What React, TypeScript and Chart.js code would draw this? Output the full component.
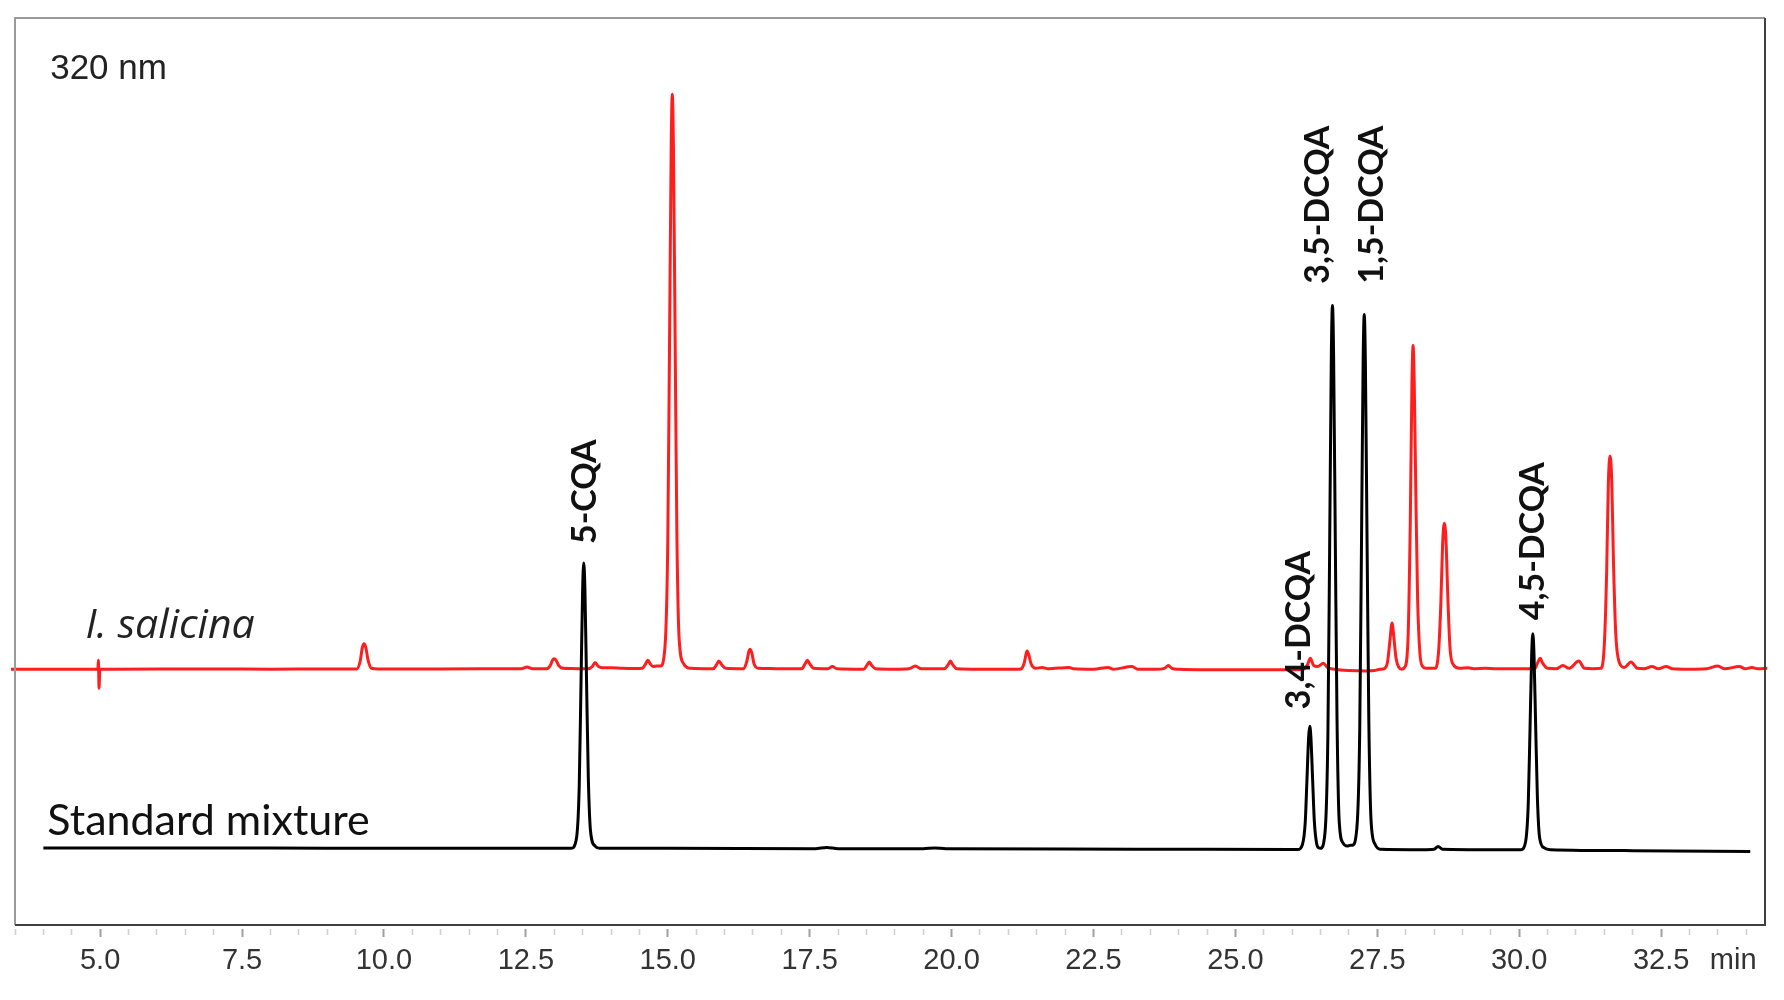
import React, { useEffect, useRef } from 'react';
import { Chart, registerables } from 'chart.js';

Chart.register(...registerables);

// Retention time (min) / detector signal (mAU, arbitrary) for the standard mixture
const STANDARD_TRACE: [number, number][] = [
  [4.0, 2], [6.0, 2], [8.0, 2], [10.0, 1.5], [12.0, 1.5], [13.3, 1.5],
  [13.39, 12], [13.44, 70], [13.47, 178], [13.5, 287], [13.52, 316], [13.54, 288],
  [13.57, 182], [13.6, 80], [13.64, 20], [13.72, 4], [13.8, 1.5],
  [15.0, 1.5], [17.6, 1.2], [17.8, 2.5], [18.0, 1.2], [19.5, 1], [19.7, 2], [19.9, 1],
  [22.0, 0.8], [24.0, 0.5], [26.0, 0.3], [26.1, 0.3],
  [26.18, 5.5], [26.23, 30], [26.26, 76], [26.29, 124], [26.31, 136], [26.33, 124],
  [26.36, 78], [26.39, 32], [26.43, 7], [26.47, 2],
  [26.5, 1.5], [26.58, 20], [26.63, 130], [26.66, 330], [26.69, 545], [26.71, 600],
  [26.73, 545], [26.76, 340], [26.79, 145], [26.83, 30], [26.9, 7], [26.97, 4], [27.03, 5],
  [27.06, 5], [27.14, 24], [27.19, 130], [27.22, 328], [27.25, 536], [27.27, 590],
  [27.29, 536], [27.32, 336], [27.35, 145], [27.39, 32], [27.46, 6], [27.55, 0.5],
  [28.3, 0], [28.5, 0.5], [28.57, 3.5], [28.65, 0.5], [29.5, 0], [30.03, 0],
  [30.11, 8], [30.16, 52], [30.19, 132], [30.22, 216], [30.24, 238], [30.26, 216],
  [30.29, 136], [30.32, 58], [30.36, 13], [30.44, 2], [30.55, 0],
  [32.0, -1], [34.07, -2],
];

// Retention time (min) / detector signal for the I. salicina extract
const SALICINA_TRACE: [number, number][] = [
  [3.43, 0], [4.96, 0], [4.97, 10], [4.98, -21], [4.995, 0], [5.2, 0],
  [7.0, 0.3], [8.0, 0], [9.0, 0.3], [9.52, 0.3],
  [9.58, 8.5], [9.62, 24], [9.65, 28], [9.68, 24], [9.72, 10], [9.78, 1], [9.9, 0.3],
  [11.0, 0.3], [12.3, 0.5], [12.42, 0.5], [12.52, 2.5], [12.62, 0.5],
  [12.87, 0.5], [12.93, 4], [12.97, 10], [13.0, 11.5], [13.03, 10], [13.08, 4], [13.15, 1],
  [13.3, 0.8], [13.6, 0.5], [13.67, 3], [13.72, 7.5], [13.77, 3.5], [13.85, 1.5],
  [14.0, 1.5], [14.2, 1], [14.45, 0.8], [14.55, 1], [14.61, 6], [14.65, 10], [14.69, 6],
  [14.74, 3], [14.8, 3.5], [14.87, 3.5],
  [14.95, 24], [15.0, 140], [15.03, 352], [15.06, 574], [15.08, 634], [15.1, 574],
  [15.13, 360], [15.16, 152], [15.2, 34], [15.28, 6], [15.4, 1], [15.75, 0.5],
  [15.8, 0.5], [15.86, 5], [15.9, 9], [15.95, 5], [16.02, 1],
  [16.33, 0.5], [16.39, 8], [16.43, 20], [16.45, 22], [16.48, 18], [16.52, 6], [16.6, 1],
  [16.8, 0.8], [17.0, 0.5], [17.3, 0.5],
  [17.36, 0.5], [17.42, 6], [17.46, 10], [17.5, 6], [17.57, 1],
  [17.82, 0.5], [17.9, 3], [17.98, 0.5],
  [18.45, 0], [18.51, 4.5], [18.55, 8], [18.59, 4.5], [18.66, 0.5],
  [19.0, 0], [19.25, 0.5], [19.36, 3.5], [19.47, 0.5],
  [19.87, 0.5], [19.94, 5], [19.98, 9], [20.02, 5], [20.09, 0.5],
  [20.5, 0], [21.0, 0], [21.2, 0],
  [21.23, 0.5], [21.28, 7], [21.31, 16], [21.33, 20], [21.36, 16], [21.4, 6], [21.48, 1],
  [21.6, 2], [21.7, 0.5], [22.07, 2], [22.15, 0.5], [22.5, 0], [22.76, 2], [22.85, 0],
  [23.18, 3], [23.28, 0], [23.6, 0], [23.75, 1], [23.82, 4], [23.88, 1], [24.0, 0],
  [24.5, -0.5], [25.0, -0.5], [25.5, -0.5], [26.0, -0.5], [26.2, 0],
  [26.27, 5], [26.32, 12], [26.38, 4], [26.45, 3], [26.55, 6.5], [26.62, 2], [26.75, 0],
  [27.0, -1.5], [27.3, -2], [27.45, -1.5], [27.55, 0],
  [27.62, 0.5], [27.68, 8], [27.72, 30], [27.76, 51], [27.79, 36], [27.83, 12], [27.88, 2], [27.93, 0],
  [27.98, 2], [28.04, 32], [28.08, 158], [28.11, 314], [28.13, 357], [28.15, 318],
  [28.18, 188], [28.21, 78], [28.25, 18], [28.3, 3], [28.36, 1],
  [28.52, 1], [28.58, 20], [28.62, 74], [28.65, 137], [28.68, 161], [28.71, 142],
  [28.74, 84], [28.78, 24], [28.84, 5], [28.95, 1],
  [29.1, 1.5], [29.2, 0.5], [29.4, 1], [29.6, 0.5], [29.9, 0.5], [30.2, 0.5],
  [30.28, 1], [30.33, 8], [30.37, 12], [30.41, 7], [30.5, 1],
  [30.65, 0.5], [30.77, 4], [30.88, 1], [31.05, 9], [31.15, 1], [31.3, 0.5],
  [31.44, 1], [31.5, 28], [31.54, 106], [31.57, 204], [31.6, 235], [31.63, 208],
  [31.66, 120], [31.7, 40], [31.76, 8], [31.85, 2],
  [31.97, 8], [32.08, 1], [32.2, 0.5], [32.34, 3], [32.45, 0.5], [32.59, 3], [32.7, 0.5],
  [33.0, 0], [33.3, 0.5], [33.5, 3.5], [33.62, 0.5], [33.88, 3], [33.98, 0.5],
  [34.1, 2], [34.2, 0.5], [34.37, 1],
];

// Vertical stacking offsets of the two chromatograms (mAU)
const STANDARD_OFFSET = 83;
const SALICINA_OFFSET = 282;

// X axis
const X_MIN = 3.5;
const X_MAX = 34.33;
const MAJOR_TICKS = [5, 7.5, 10, 12.5, 15, 17.5, 20, 22.5, 25, 27.5, 30, 32.5];
const TICK_LABELS = ['5.0', '7.5', '10.0', '12.5', '15.0', '17.5', '20.0', '22.5', '25.0', '27.5', '30.0', '32.5'];
const X_UNIT = 'min';
const X_UNIT_AT = 33.77;

// Peak annotations (rotated), anchored at (time, signal) of the label start
const PEAK_NAMES = ['5-CQA', '3,4-DCQA', '3,5-DCQA', '1,5-DCQA', '4,5-DCQA'];
const PEAK_LABEL_TIME = [13.545, 26.12, 26.46, 27.41, 30.25];
const PEAK_LABEL_Y = [420, 238, 707, 707, 336];

// Free text annotations
const WAVELENGTH = '320 nm';
const TRACE_NAMES = ['Standard mixture', 'I. salicina'];
const TRACE_NAME_TIME = [4.07, 4.74];
const TRACE_NAME_Y = [99, 316];

export default function App() {
  const ref = useRef<HTMLCanvasElement | null>(null);

  useEffect(() => {
    const canvas = ref.current;
    if (!canvas) return;

    const isMajor = (v: number) => MAJOR_TICKS.some((m) => Math.abs(m - v) < 1e-6);

    const overlay = {
      id: 'overlay',
      afterDatasetsDraw(chart: any) {
        const { ctx, scales } = chart;
        const x = scales.x;
        const y = scales.y;
        ctx.save();
        ctx.fillStyle = '#111';
        ctx.font = 'bold 34px Lato, "Open Sans", sans-serif';
        ctx.textAlign = 'left';
        ctx.textBaseline = 'middle';
        PEAK_NAMES.forEach((name, i) => {
          const px = x.getPixelForValue(PEAK_LABEL_TIME[i]);
          const py = y.getPixelForValue(PEAK_LABEL_Y[i]);
          ctx.save();
          ctx.translate(px, py);
          ctx.rotate(-Math.PI / 2);
          ctx.fillText(name, 0, 0);
          ctx.restore();
        });
        ctx.restore();
      },
      afterDraw(chart: any) {
        const { ctx, chartArea, scales } = chart;
        const x = scales.x;
        const y = scales.y;
        ctx.save();
        ctx.lineWidth = 2;
        ctx.strokeStyle = '#9a9a9a';
        ctx.beginPath();
        ctx.moveTo(chartArea.left, chartArea.bottom);
        ctx.lineTo(chartArea.left, chartArea.top);
        ctx.lineTo(chartArea.right, chartArea.top);
        ctx.stroke();
        ctx.strokeStyle = '#404040';
        ctx.beginPath();
        ctx.moveTo(chartArea.right, chartArea.top);
        ctx.lineTo(chartArea.right, chartArea.bottom);
        ctx.lineTo(chartArea.left, chartArea.bottom);
        ctx.stroke();

        ctx.fillStyle = '#222';
        ctx.font = '35px "Liberation Sans", Arial, sans-serif';
        ctx.textAlign = 'left';
        ctx.textBaseline = 'middle';
        ctx.fillText(WAVELENGTH, x.getPixelForValue(4.12), y.getPixelForValue(943));

        ctx.textBaseline = 'alphabetic';
        ctx.font = '43px Lato, "Open Sans", sans-serif';
        ctx.fillStyle = '#111';
        ctx.fillText(TRACE_NAMES[0], x.getPixelForValue(TRACE_NAME_TIME[0]), y.getPixelForValue(TRACE_NAME_Y[0]));
        ctx.font = 'italic 41px "Open Sans", Lato, sans-serif';
        ctx.fillStyle = '#222';
        ctx.fillText(TRACE_NAMES[1], x.getPixelForValue(TRACE_NAME_TIME[1]), y.getPixelForValue(TRACE_NAME_Y[1]));

        ctx.font = '29px "Liberation Sans", Arial, sans-serif';
        ctx.fillStyle = '#333';
        ctx.textAlign = 'center';
        ctx.textBaseline = 'middle';
        ctx.fillText(X_UNIT, x.getPixelForValue(X_UNIT_AT), 961);
        ctx.restore();
      },
    };

    const chart = new Chart(canvas, {
      type: 'line',
      data: {
        datasets: [
          {
            label: TRACE_NAMES[0],
            data: STANDARD_TRACE.map(([t, v]) => ({ x: t, y: v + STANDARD_OFFSET })),
            borderColor: '#000000',
            borderWidth: 3,
            pointRadius: 0,
            cubicInterpolationMode: 'monotone',
            clip: false,
          },
          {
            label: TRACE_NAMES[1],
            data: SALICINA_TRACE.map(([t, v]) => ({ x: t, y: v + SALICINA_OFFSET })),
            borderColor: '#ff1e1e',
            borderWidth: 3,
            pointRadius: 0,
            cubicInterpolationMode: 'monotone',
            clip: false,
          },
        ],
      },
      options: {
        animation: false,
        responsive: false,
        devicePixelRatio: 1,
        layout: { padding: { left: 15, right: 19, top: 18, bottom: 0 } },
        plugins: { legend: { display: false }, tooltip: { enabled: false } },
        scales: {
          x: {
            type: 'linear',
            min: X_MIN,
            max: X_MAX,
            border: { display: false },
            grid: {
              drawOnChartArea: false,
              drawTicks: true,
              tickLength: 12,
              tickWidth: (c: any) => (isMajor(c.tick?.value) ? 2 : 1.5),
              tickColor: (c: any) => (isMajor(c.tick?.value) ? '#a0a0a0' : '#cfcfcf'),
              tickBorderDash: (c: any) => (isMajor(c.tick?.value) ? [0, 4, 11, 60] : [0, 4, 6, 60]),
            },
            ticks: {
              stepSize: 0.5,
              includeBounds: false,
              autoSkip: false,
              maxRotation: 0,
              minRotation: 0,
              padding: 7,
              color: '#333',
              font: { family: '"Liberation Sans", Arial, sans-serif', size: 29 },
              callback: (v: any) => {
                const i = MAJOR_TICKS.findIndex((m) => Math.abs(m - Number(v)) < 1e-6);
                return i >= 0 ? TICK_LABELS[i] : '';
              },
            },
            afterFit: (s: any) => {
              s.height = 75;
            },
          },
          y: {
            type: 'linear',
            min: 0,
            max: 1000,
            display: false,
          },
        },
      },
      plugins: [overlay],
    } as any);

    return () => chart.destroy();
  }, []);

  return (
    <div style={{ position: 'absolute', left: 0, top: 0, width: 1784, height: 1000, background: '#fff' }}>
      <canvas ref={ref} width={1784} height={1000} style={{ width: 1784, height: 1000, display: 'block' }} />
    </div>
  );
}
